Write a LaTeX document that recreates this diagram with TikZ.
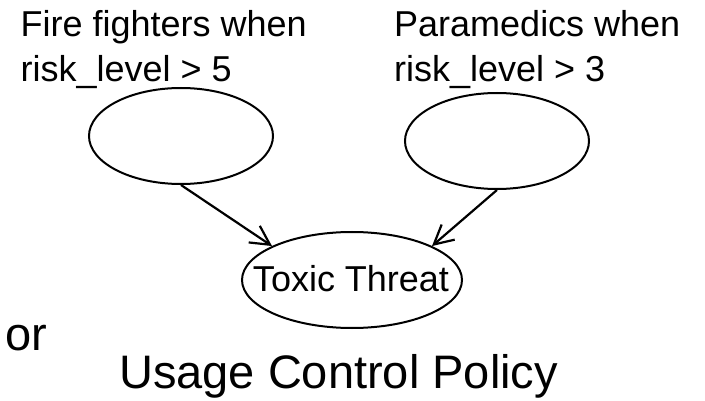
\documentclass[tikz,border=0pt]{standalone}
\usepackage{fontspec}
\setmainfont{Liberation Sans}
\usetikzlibrary{shapes.geometric,arrows.meta}
\begin{document}
\begin{tikzpicture}[x=1pt,y=-1pt,
  oval/.style={draw, ellipse, line width=2pt, inner sep=0pt},
  lbl/.style={inner sep=0pt, anchor=base west, align=left, font=\fontsize{36}{45}\selectfont},
  big/.style={inner sep=0pt, anchor=base west, font=\fontsize{47}{56}\selectfont},
  link/.style={line width=2.2pt, -{Straight Barb[length=19pt,width=20pt,line width=2.2pt]}}]
  \useasboundingbox (0,0) rectangle (705,401);
  % condition labels (anchored at the baseline of their last line)
  \node[lbl] (fl) at (20.5,82) {Fire fighters when\\risk\_level > 5};
  \node[lbl] (pl) at (394,82) {Paramedics when\\risk\_level > 3};
  % role nodes and the threat node
  \node[oval, minimum width=184pt, minimum height=96pt] (F) at (181,136) {};
  \node[oval, minimum width=184pt, minimum height=96pt] (P) at (497,141) {};
  \node[oval, minimum width=220pt, minimum height=96pt] (T) at (352,280) {};
  \node[inner sep=0pt, font=\fontsize{36}{45}\selectfont] (tt) at (351,279) {Toxic Threat};
  % connectors
  \draw[link] (F.south) -- (T.157);
  \draw[link] (P.south) -- (T.23);
  % bottom text
  \node[big] (or) at (5,350) {or};
  \node[big] (ucp) at (119,388) {Usage Control Policy};
\end{tikzpicture}
\end{document}
